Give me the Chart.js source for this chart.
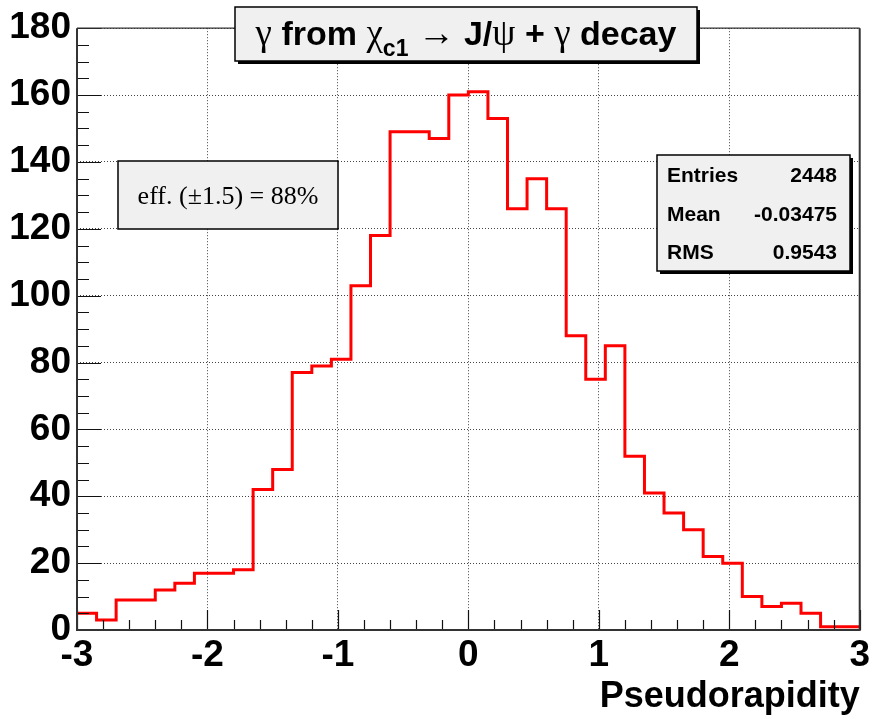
<!DOCTYPE html>
<html>
<head>
<meta charset="utf-8">
<script src="https://cdn.jsdelivr.net/npm/chart.js@4.4.1/dist/chart.umd.min.js"></script>
<style>
  html, body { margin: 0; padding: 0; background: #fff; }
</style>
</head>
<body>
<canvas id="myChart" width="874" height="721"></canvas>
<script>
// histogram: 40 bins from -3 to 3
const binLowEdges = [-3, -2.85, -2.7, -2.55, -2.4, -2.25, -2.1, -1.95, -1.8, -1.65,
  -1.5, -1.35, -1.2, -1.05, -0.9, -0.75, -0.6, -0.45, -0.3, -0.15,
  0, 0.15, 0.3, 0.45, 0.6, 0.75, 0.9, 1.05, 1.2, 1.35,
  1.5, 1.65, 1.8, 1.95, 2.1, 2.25, 2.4, 2.55, 2.7, 2.85]
const binCounts = [5, 3, 9, 9, 12, 14, 17, 17, 18, 42,
  48, 77, 79, 81, 103, 118, 149, 149, 147, 160,
  161, 153, 126, 135, 126, 88, 75, 85, 52, 41,
  35, 30, 22, 20, 10, 7, 8, 5, 1, 1]
const xMax = 3
const xTickValues = [-3, -2, -1, 0, 1, 2, 3]
const yTickValues = [0, 20, 40, 60, 80, 100, 120, 140, 160, 180]
const xAxisTitle = "Pseudorapidity"
const statLabels = ["Entries", "Mean", "RMS"]
const statValues = ["2448", "-0.03475", "0.9543"]
const effText = "eff. (\u00b11.5) = 88%"

const boldFont = 'bold 34px "Liberation Sans", Arial, sans-serif'
const greekFont = '37px "Liberation Serif", "DejaVu Serif", serif'
const subFont = 'bold 23px "Liberation Sans", Arial, sans-serif'
const titleParts = [
  {t: "\u03b3", f: greekFont},
  {t: " from ", f: boldFont},
  {t: "\u03c7", f: greekFont},
  {t: "c1", f: subFont, dy: 11},
  {t: " \u2192 ", f: greekFont},
  {t: "J/", f: boldFont},
  {t: "\u03c8", f: greekFont},
  {t: " + ", f: boldFont},
  {t: "\u03b3", f: greekFont},
  {t: " decay", f: boldFont}
]

const histPoints = binLowEdges.map((x, i) => ({x: x, y: binCounts[i]}))
histPoints.push({x: xMax, y: binCounts[binCounts.length - 1]})

function paveBox(ctx, x, y, w, h, shadow) {
  ctx.save()
  if (shadow) {
    ctx.fillStyle = '#000'
    ctx.fillRect(x + 3, y + 3, w, h)
  }
  ctx.fillStyle = '#f0f0f0'
  ctx.fillRect(x, y, w, h)
  ctx.strokeStyle = '#000'
  ctx.lineWidth = 1.5
  ctx.strokeRect(x, y, w, h)
  ctx.restore()
}

const rootFrame = {
  id: 'rootFrame',
  afterDatasetsDraw(chart) {
    const ctx = chart.ctx
    const xs = chart.scales.x
    const ys = chart.scales.y
    const a = chart.chartArea
    ctx.save()
    ctx.strokeStyle = '#111'
    ctx.lineWidth = 1.2
    ctx.beginPath()
    // y ticks inward, minor every 5
    for (let v = ys.min; v <= ys.max; v += 5) {
      const py = Math.round(ys.getPixelForValue(v)) + 0.5
      const len = (v % 20 === 0) ? 24 : 12
      ctx.moveTo(a.left, py)
      ctx.lineTo(a.left + len, py)
    }
    // x ticks upward, minor every 0.2
    for (let k = 0; k <= 30; k++) {
      const v = xs.min + k * 0.2
      const px = Math.round(xs.getPixelForValue(v)) + 0.5
      const len = (k % 5 === 0) ? 20 : 10
      ctx.moveTo(px, a.bottom)
      ctx.lineTo(px, a.bottom - len)
    }
    ctx.stroke()
    // frame
    ctx.lineWidth = 2
    ctx.strokeStyle = '#333'
    ctx.beginPath()
    ctx.moveTo(a.left, a.top)
    ctx.lineTo(a.left, a.bottom)
    ctx.lineTo(a.right, a.bottom)
    ctx.lineTo(a.right, a.top)
    ctx.stroke()
    ctx.lineWidth = 1.2
    ctx.beginPath()
    ctx.moveTo(a.left, a.top)
    ctx.lineTo(a.right, a.top)
    ctx.stroke()
    ctx.restore()
  },
  afterDraw(chart) {
    const ctx = chart.ctx
    // title pave
    paveBox(ctx, 235, 7, 462, 54, true)
    ctx.save()
    ctx.fillStyle = '#000'
    ctx.textBaseline = 'alphabetic'
    let total = 0
    titleParts.forEach(p => { ctx.font = p.f; total += ctx.measureText(p.t).width })
    let cx = 466 - total / 2
    titleParts.forEach(p => {
      ctx.font = p.f
      ctx.fillText(p.t, cx, 45 + (p.dy || 0))
      cx += ctx.measureText(p.t).width
    })
    ctx.restore()

    // efficiency pave
    paveBox(ctx, 118, 161, 220, 68, false)
    ctx.save()
    ctx.fillStyle = '#000'
    ctx.font = '26px "Liberation Serif", "Times New Roman", serif'
    ctx.textAlign = 'center'
    ctx.textBaseline = 'middle'
    ctx.fillText(effText, 228, 197)
    ctx.restore()

    // stats pave
    paveBox(ctx, 657, 155, 193, 116, true)
    ctx.save()
    ctx.fillStyle = '#000'
    ctx.font = 'bold 21px "Liberation Sans", Arial, sans-serif'
    ctx.textBaseline = 'middle'
    const rows = [176, 215, 253]
    statLabels.forEach((s, i) => {
      ctx.textAlign = 'left'
      ctx.fillText(s, 667, rows[i])
      ctx.textAlign = 'right'
      ctx.fillText(statValues[i], 837, rows[i])
    })
    ctx.restore()
  }
}

const tickFont = {family: '"Liberation Sans", Arial, sans-serif', size: 37, weight: 'bold'}

new Chart("myChart", {
  type: "line",
  data: {
    datasets: [{
      data: histPoints,
      borderColor: '#ff0000',
      borderWidth: 3,
      pointRadius: 0,
      fill: false,
      stepped: true,
      tension: 0
    }]
  },
  options: {
    responsive: false,
    devicePixelRatio: 1,
    animation: false,
    layout: {padding: {top: 28, right: 11, left: 0, bottom: 0}},
    plugins: {legend: {display: false}, tooltip: {enabled: false}},
    scales: {
      x: {
        type: 'linear',
        min: -3,
        max: 3,
        afterBuildTicks: s => { s.ticks = xTickValues.map(v => ({value: v})) },
        afterFit: s => { s.height = 91 },
        ticks: {font: tickFont, color: '#000', padding: 4, maxRotation: 0, autoSkip: false},
        grid: {color: '#444', lineWidth: 1, drawTicks: false},
        border: {display: false, dash: [1, 2]},
        title: {display: true, text: xAxisTitle, align: 'end', color: '#000',
          font: {family: '"Liberation Sans", Arial, sans-serif', size: 36, weight: 'bold'},
          padding: {top: 0, bottom: 2}}
      },
      y: {
        min: 0,
        max: 180,
        afterBuildTicks: s => { s.ticks = yTickValues.map(v => ({value: v})) },
        afterFit: s => { s.width = 77 },
        ticks: {font: tickFont, color: '#000', padding: 6, autoSkip: false},
        grid: {color: '#444', lineWidth: 1, drawTicks: false},
        border: {display: false, dash: [1, 2]}
      }
    }
  },
  plugins: [rootFrame]
});
</script>
</body>
</html>
